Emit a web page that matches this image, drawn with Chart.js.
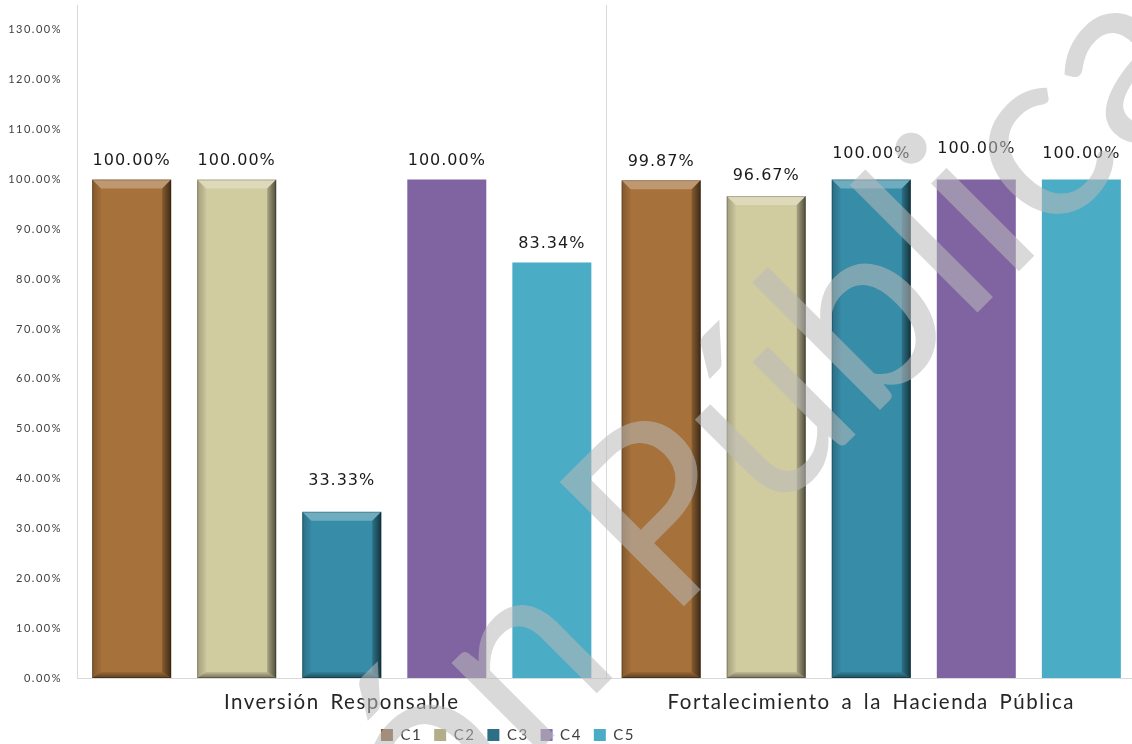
<!DOCTYPE html>
<html>
<head>
<meta charset="utf-8">
<title>Cumplimiento por componente</title>
<script src="https://cdn.jsdelivr.net/npm/chart.js@4.4.1/dist/chart.umd.min.js"></script>
<style>
  html, body { margin: 0; padding: 0; background: #fff; overflow: hidden; }
  #wrap { position: relative; width: 1136px; height: 744px; }
</style>
</head>
<body>
<div id="wrap"><canvas id="avanceChart"></canvas></div>
<script>
// datos
const categories = ['Inversión Responsable', 'Fortalecimiento a la Hacienda Pública'];
const seriesNames = ['C1', 'C2', 'C3', 'C4', 'C5'];
const c1Values = [1.0, 0.9987];
const c2Values = [1.0, 0.9667];
const c3Values = [0.3333, 1.0];
const c4Values = [1.0, 1.0];
const c5Values = [0.8334, 1.0];
const yTickValues = [0, 0.1, 0.2, 0.3, 0.4, 0.5, 0.6, 0.7, 0.8, 0.9, 1.0, 1.1, 1.2, 1.3];

const seriesValues = [c1Values, c2Values, c3Values, c4Values, c5Values];
const seriesColors = ['#a6713b', '#d1cba0', '#378ca8', '#8064a2', '#4bacc6'];
const legendSwatch = ['#85592f', '#b3ae8a', '#2c6f86', '#8a70ab', '#4bacc6'];
const beveled = [true, true, true, false, false];
// how far each value label sits above its bar (px), per series then category
const labelLift = [[19, 18], [19, 20], [31, 26], [19, 31], [19, 26]];

function pct(v) {
    return (v * 100).toFixed(2) + '%';
}

function poly(ctx, pts, fill) {
    ctx.beginPath();
    ctx.moveTo(pts[0][0], pts[0][1]);
    for (let k = 1; k < pts.length; k++) ctx.lineTo(pts[k][0], pts[k][1]);
    ctx.closePath();
    ctx.fillStyle = fill;
    ctx.fill();
}

// wide letter spacing like the exported office chart
function setSpacing(ctx) {
    ctx.letterSpacing = '1.5px';
    ctx.wordSpacing = '4px';
}
const spacing = {
    id: 'spacing',
    beforeLayout(chart) { setSpacing(chart.ctx); },
    beforeDraw(chart) { setSpacing(chart.ctx); }
};

// bevel look on C1-C3
const bevel = {
    id: 'bevel',
    afterDatasetsDraw(chart) {
        const ctx = chart.ctx;
        const e = 9, eb = 6;
        chart.data.datasets.forEach((ds, i) => {
            if (!beveled[i]) return;
            chart.getDatasetMeta(i).data.forEach(bar => {
                const p = bar.getProps(['x', 'y', 'base', 'width'], true);
                const l = p.x - p.width / 2, r = p.x + p.width / 2, t = p.y, b = p.base;
                ctx.save();
                const gl = ctx.createLinearGradient(l, 0, l + e, 0);
                gl.addColorStop(0, 'rgba(0,0,0,0.22)');
                gl.addColorStop(1, 'rgba(0,0,0,0.03)');
                poly(ctx, [[l, t], [l + e, t + e], [l + e, b - eb], [l, b]], gl);
                poly(ctx, [[l, t], [r, t], [r - e, t + e], [l + e, t + e]], 'rgba(255,255,255,0.28)');
                const g = ctx.createLinearGradient(r - e - 3, 0, r, 0);
                g.addColorStop(0, 'rgba(0,0,0,0.05)');
                g.addColorStop(1, 'rgba(0,0,0,0.62)');
                poly(ctx, [[r, t], [r, b], [r - e, b - eb], [r - e, t + e]], g);
                const gb = ctx.createLinearGradient(0, b - eb, 0, b);
                gb.addColorStop(0, 'rgba(0,0,0,0.08)');
                gb.addColorStop(1, 'rgba(0,0,0,0.45)');
                poly(ctx, [[l, b], [r, b], [r - e, b - eb], [l + e, b - eb]], gb);
                ctx.strokeStyle = 'rgba(0,0,0,0.22)';
                ctx.lineWidth = 1;
                ctx.strokeRect(l + 0.5, t + 0.5, p.width - 1, b - t - 1);
                ctx.restore();
            });
        });
    }
};

const valueLabels = {
    id: 'valueLabels',
    afterDatasetsDraw(chart) {
        const ctx = chart.ctx;
        ctx.save();
        ctx.font = '16px "DejaVu Sans"';
        ctx.fillStyle = '#1a1a1a';
        ctx.textAlign = 'center';
        ctx.textBaseline = 'middle';
        ctx.letterSpacing = '1px';
        ctx.wordSpacing = '0px';
        chart.data.datasets.forEach((ds, i) => {
            chart.getDatasetMeta(i).data.forEach((bar, j) => {
                ctx.fillText(pct(ds.data[j]), bar.x, bar.y - labelLift[i][j]);
            });
        });
        ctx.restore();
    }
};

// legend sits a bit left of centre, near the bottom edge
const legendMove = {
    id: 'legendMove',
    afterLayout(chart) {
        const lg = chart.legend;
        const pad = lg.options.labels.padding;
        const dx = 514 - (lg.left + lg.right + pad) / 2;
        lg.left += dx; lg.right += dx;
        lg.top = 735 - pad - 7.5;
        lg.bottom = 744;
        lg.height = lg.bottom - lg.top;
    }
};

const watermark = {
    id: 'watermark',
    afterDraw(chart) {
        const ctx = chart.ctx;
        ctx.save();
        ctx.letterSpacing = '0px';
        ctx.wordSpacing = '0px';
        ctx.translate(668, 622);
        ctx.rotate(-Math.PI / 4);
        ctx.font = '245px Lato';
        ctx.fillStyle = 'rgba(185,185,185,0.55)';
        ctx.textBaseline = 'alphabetic';
        ctx.textAlign = 'left';
        ctx.fillText('Pública', 0, 0);
        ctx.textAlign = 'right';
        ctx.fillText('Versión ', 0, 0);
        ctx.restore();
    }
};

const datasets = seriesNames.map((name, i) => ({
    label: name,
    data: seriesValues[i],
    backgroundColor: seriesColors[i],
    borderWidth: 0,
    categoryPercentage: 0.992,
    barPercentage: 0.752
}));

new Chart(document.getElementById('avanceChart'), {
    type: 'bar',
    data: { labels: categories, datasets: datasets },
    plugins: [spacing, bevel, valueLabels, legendMove, watermark],
    options: {
        responsive: true,
        maintainAspectRatio: false,
        animation: false,
        layout: { padding: { top: 5, left: 0, right: 0, bottom: 0 } },
        plugins: {
            legend: {
                position: 'bottom',
                maxHeight: 22,
                labels: {
                    boxWidth: 12,
                    boxHeight: 12,
                    padding: 12,
                    color: '#404040',
                    font: { family: 'Lato', size: 15 },
                    generateLabels(chart) {
                        const items = Chart.defaults.plugins.legend.labels.generateLabels(chart);
                        items.forEach((it, k) => { it.fillStyle = legendSwatch[k]; it.lineWidth = 0; });
                        return items;
                    }
                }
            },
            tooltip: { enabled: false }
        },
        scales: {
            x: {
                grid: { color: '#d9d9d9', drawTicks: false, offset: true },
                border: { color: '#d9d9d9' },
                ticks: {
                    color: '#262626',
                    padding: 12,
                    maxRotation: 0,
                    font: { family: 'Lato', size: 20.5 }
                },
                afterFit(scale) { scale.height = 44; }
            },
            y: {
                min: 0,
                max: 1.35,
                grid: { display: false, drawTicks: false },
                border: { display: false },
                afterBuildTicks(scale) {
                    scale.ticks = yTickValues.map(v => ({ value: v }));
                },
                ticks: {
                    color: '#404040',
                    padding: 15,
                    font: { family: 'Lato', size: 11 },
                    callback: v => pct(v)
                },
                afterFit(scale) {
                    scale.width = 77;
                    scale.paddingTop = 0;
                    scale.paddingBottom = 0;
                }
            }
        }
    }
});
</script>
</body>
</html>
